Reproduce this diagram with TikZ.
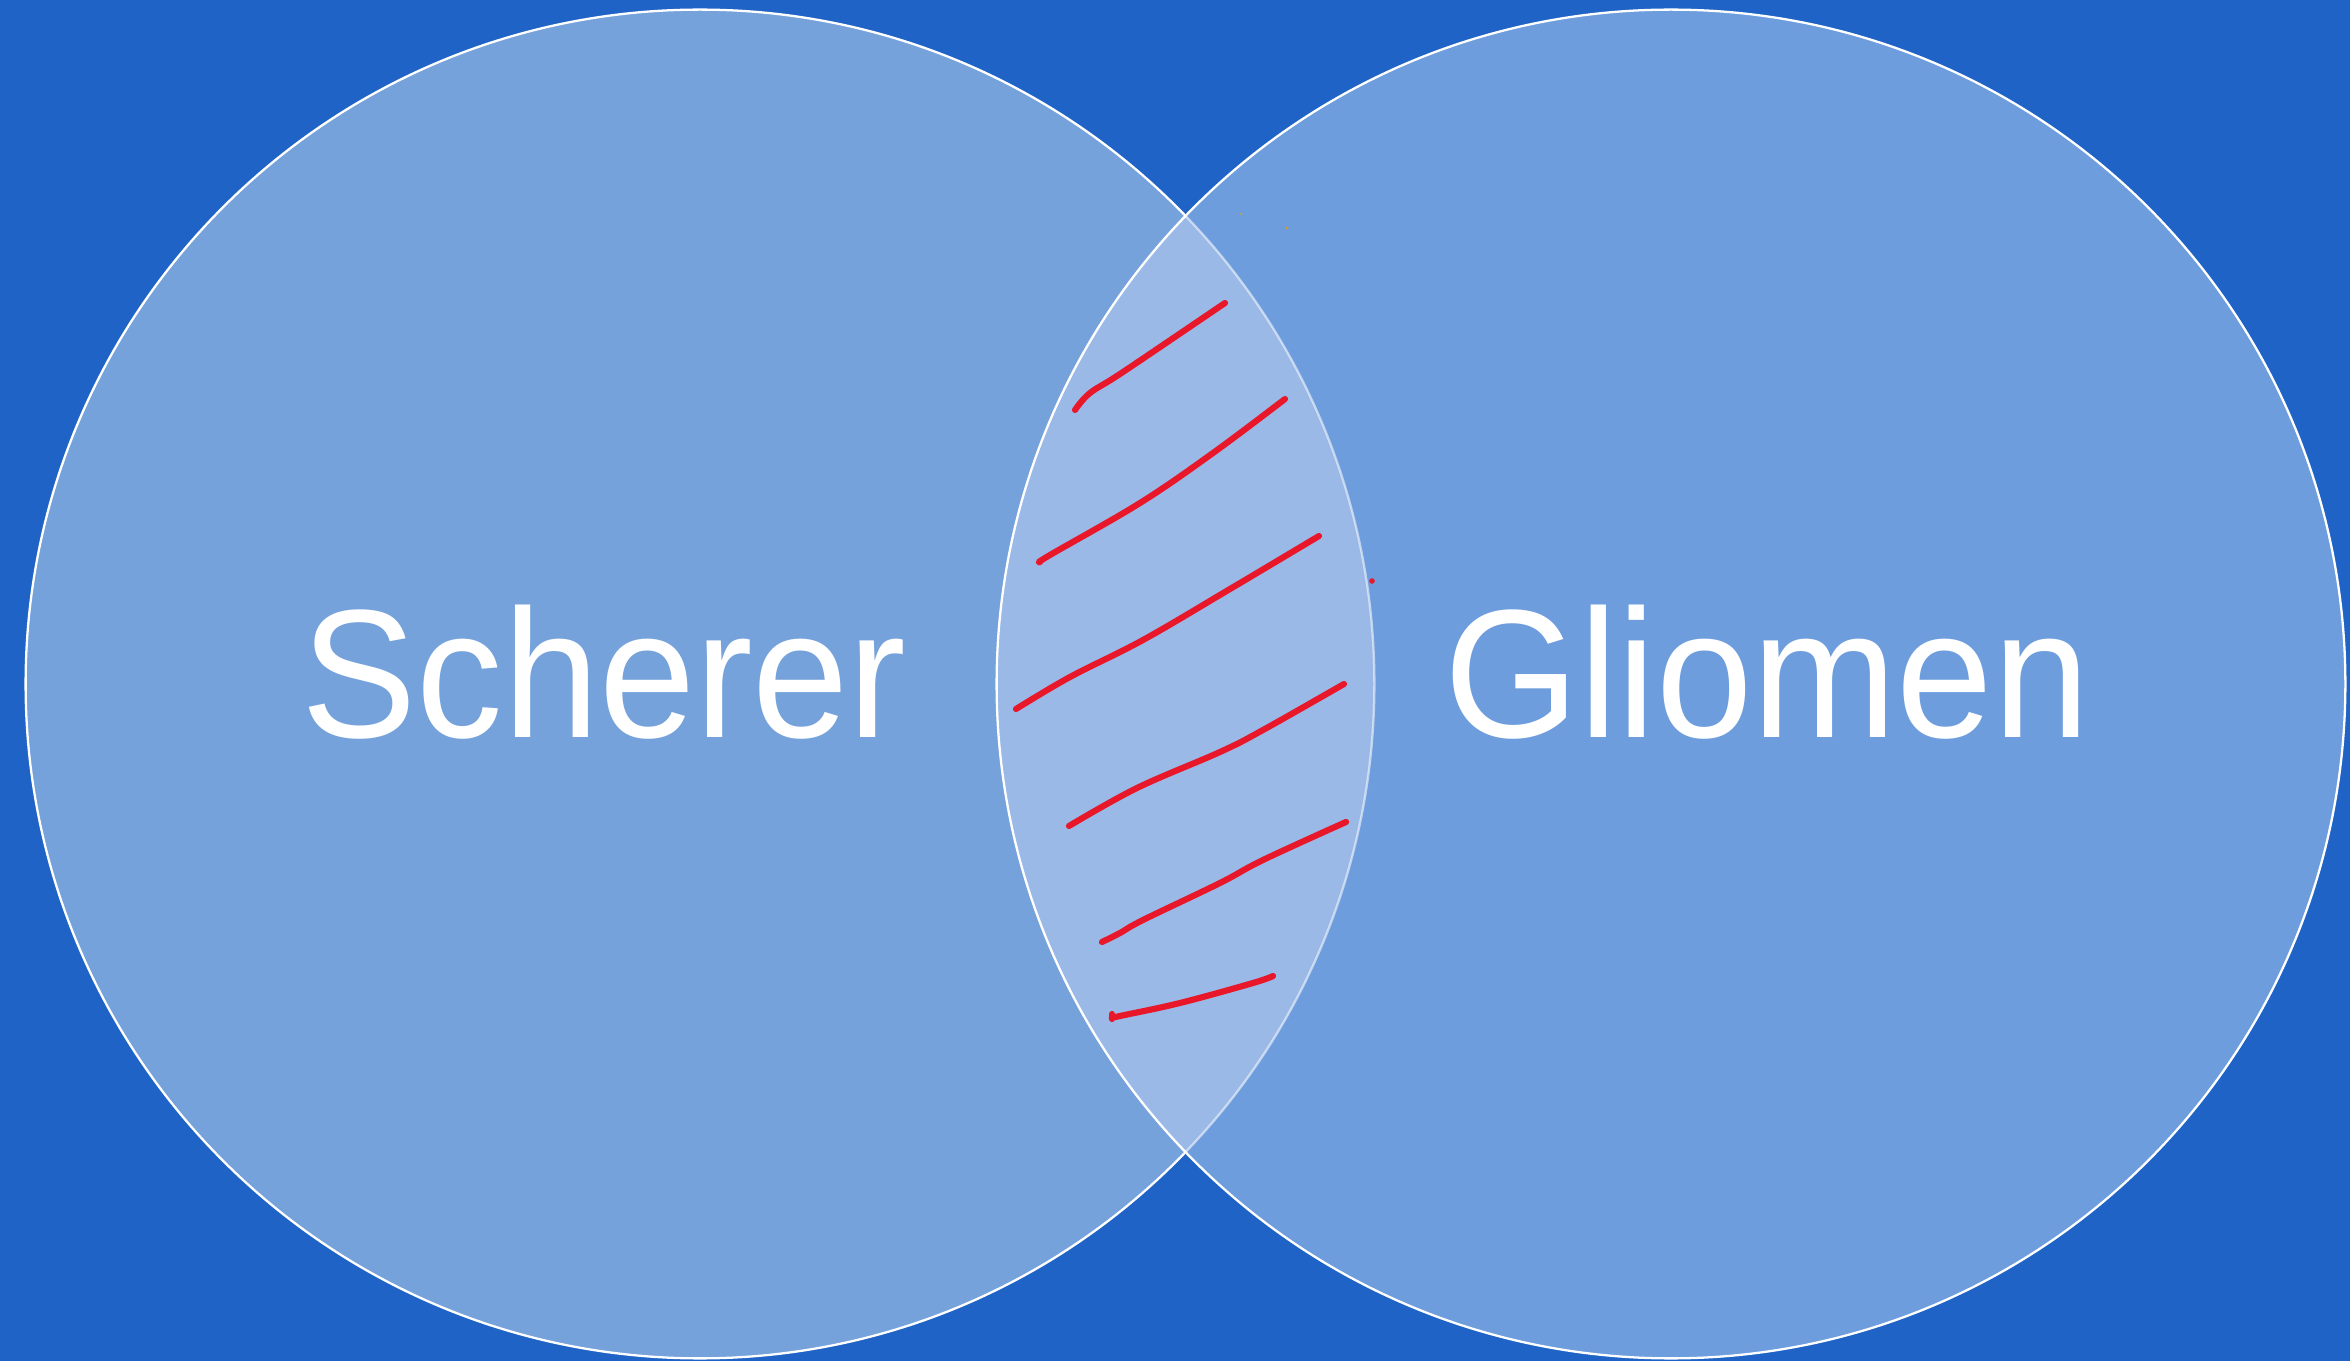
\documentclass[tikz,border=0pt]{standalone}
\usepackage{fontspec}
\setmainfont{Liberation Sans}
\definecolor{bgblue}{RGB}{31,99,198}
\definecolor{leftc}{RGB}{118,162,220}
\definecolor{rightc}{RGB}{110,157,221}
\definecolor{lensc}{RGB}{155,185,230}
\definecolor{inkred}{RGB}{232,24,42}
\definecolor{speck}{RGB}{200,160,50}
\tikzset{
  outline/.style={draw=white, line width=0.65pt},
  redstroke/.style={draw=inkred, line width=1.75pt, line cap=round, line join=round},
  label/.style={text=white, inner sep=0pt, anchor=base, font=\fontsize{52}{62}\selectfont},
}
\begin{document}
\begin{tikzpicture}[x=0.01cm, y=-0.01cm]
\useasboundingbox (0,0) rectangle (2350,1361);
\fill[bgblue] (0,0) rectangle (2350,1361);
\coordinate (cl) at (700,684);
\coordinate (cr) at (1671,684);
\fill[leftc] (cl) circle (6.74cm);
\fill[rightc] (cr) circle (6.74cm);
\begin{scope}
  \clip (cl) circle (6.74cm);
  \fill[lensc] (cr) circle (6.74cm);
\end{scope}
\begin{scope}[even odd rule]
  \clip (-10,-10) rectangle (2360,1371) (cr) circle (6.74cm);
  \draw[outline] (cl) circle (6.74cm);
\end{scope}
\begin{scope}
  \clip (cr) circle (6.74cm);
  \draw[outline, draw opacity=0.55] (cl) circle (6.74cm);
\end{scope}
\draw[outline] (cr) circle (6.74cm);
% labels
\node[label] (scherer) at (604,738) {\scalebox{0.945}[1]{Scherer}};
\node[label] (gliomen) at (1767,738) {\scalebox{0.948}[1]{Gliomen}};
% red hatching
\draw[redstroke] plot[smooth, tension=0.6] coordinates {(1075,410) (1090,393) (1123,372) (1225,303)};
\draw[redstroke] plot[smooth, tension=0.6] coordinates {(1040,562) (1050,555) (1140,503) (1213,453) (1285,399)};
\draw[redstroke] plot[smooth, tension=0.6] coordinates {(1319,536) (1230,589) (1143,640) (1070,677) (1016,709)};
\draw[redstroke] plot[smooth, tension=0.6] coordinates {(1344,684) (1263,730) (1220,752) (1137,788) (1069,826)};
\draw[redstroke] plot[smooth, tension=0.6] coordinates {(1346,822) (1263,860) (1220,883) (1143,920) (1120,933) (1102,942)};
\draw[redstroke] plot[smooth, tension=0.6] coordinates {(1273,976) (1253,983) (1180,1003) (1120,1016) (1112,1018)};
\draw[redstroke] (1112,1014) -- (1112,1019);
\fill[inkred] (1372,581) circle (0.028cm);
\fill[speck] (1241,214) circle (0.012cm);
\fill[speck] (1287,228) circle (0.017cm);
\end{tikzpicture}
\end{document}
